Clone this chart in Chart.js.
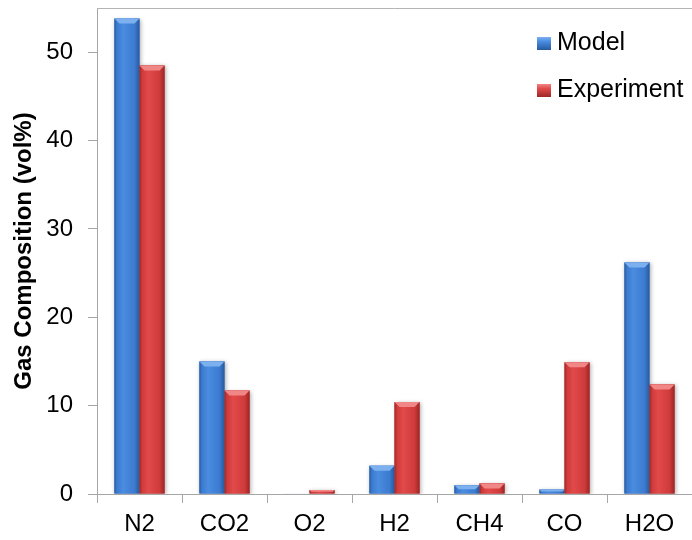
<!DOCTYPE html>
<html>
<head>
<meta charset="utf-8">
<script src="https://cdn.jsdelivr.net/npm/chart.js@4.4.0/dist/chart.umd.min.js"></script>
<style>
  html, body { margin: 0; padding: 0; background: #fff; }
  #wrap { width: 692px; height: 540px; }
</style>
</head>
<body>
<div id="wrap"><canvas id="gasChart" width="692" height="540"></canvas></div>
<script>
const gases = ['N2', 'CO2', 'O2', 'H2', 'CH4', 'CO', 'H2O'];
const modelValues = [53.8, 15.0, 0.05, 3.2, 1.0, 0.5, 26.2];
const experimentValues = [48.5, 11.7, 0.45, 10.4, 1.2, 14.9, 12.4];
const yTicks = [0, 10, 20, 30, 40, 50];

const FONT = '"Liberation Sans", Arial, sans-serif';

const palette = {
  Model: { light: '#4a8ce0', mid: '#3c7bcf', dark: '#275a9e', top: '#7db0ee' },
  Experiment: { light: '#e24a4a', mid: '#cf3a3a', dark: '#9c2626', top: '#f08686' },
};

// soft drop shadow under the bars, then a shaded face and a light top bevel
const bevelBars = {
  id: 'bevelBars',
  beforeDatasetsDraw(chart) {
    const ctx = chart.ctx;
    ctx.save();
    ctx.shadowColor = 'rgba(0,0,0,0.3)';
    ctx.shadowBlur = 4;
    ctx.shadowOffsetX = 1;
    ctx.shadowOffsetY = 1;
  },
  afterDatasetsDraw(chart) {
    const ctx = chart.ctx;
    ctx.restore();
    chart.data.datasets.forEach((ds, i) => {
      const c = palette[ds.label];
      chart.getDatasetMeta(i).data.forEach(bar => {
        const h = bar.base - bar.y;
        if (h < 0.5) return;
        const x0 = bar.x - bar.width / 2;
        const x1 = bar.x + bar.width / 2;
        const g = ctx.createLinearGradient(x0, 0, x1, 0);
        g.addColorStop(0, c.dark);
        g.addColorStop(0.1, c.mid);
        g.addColorStop(0.35, c.light);
        g.addColorStop(0.8, c.mid);
        g.addColorStop(1, c.dark);
        ctx.save();
        ctx.fillStyle = g;
        ctx.fillRect(x0, bar.y, bar.width, h);
        const b = Math.min(5, h / 2);
        if (h >= 2) {
          ctx.fillStyle = c.top;
          ctx.beginPath();
          ctx.moveTo(x0, bar.y);
          ctx.lineTo(x1, bar.y);
          ctx.lineTo(x1 - b, bar.y + b);
          ctx.lineTo(x0 + b, bar.y + b);
          ctx.closePath();
          ctx.fill();
        }
        ctx.restore();
      });
    });
  },
};

// top frame line and the legend inside the plot
const frameAndLegend = {
  id: 'frameAndLegend',
  afterDraw(chart) {
    const ctx = chart.ctx;
    const a = chart.chartArea;
    ctx.save();
    ctx.strokeStyle = '#b4b4b4';
    ctx.lineWidth = 1;
    ctx.beginPath();
    ctx.moveTo(a.left, a.top + 0.5);
    ctx.lineTo(a.right, a.top + 0.5);
    ctx.stroke();

    ctx.font = '25px ' + FONT;
    ctx.textBaseline = 'middle';
    chart.data.datasets.forEach((ds, i) => {
      const c = palette[ds.label];
      const y = 43 + i * 47;
      const x = 537;
      const g = ctx.createLinearGradient(0, y - 6, 0, y + 7);
      g.addColorStop(0, c.top);
      g.addColorStop(0.35, c.light);
      g.addColorStop(1, c.dark);
      ctx.fillStyle = g;
      ctx.fillRect(x, y - 6, 14, 13);
      ctx.fillStyle = '#000';
      ctx.fillText(ds.label, x + 20, y);
    });
    ctx.restore();
  },
};

new Chart(document.getElementById('gasChart'), {
  type: 'bar',
  data: {
    labels: gases,
    datasets: [
      { label: 'Model', data: modelValues, backgroundColor: palette.Model.mid },
      { label: 'Experiment', data: experimentValues, backgroundColor: palette.Experiment.mid },
    ],
  },
  options: {
    responsive: false,
    animation: false,
    layout: { padding: { top: 8, right: 0, left: 0, bottom: 0 } },
    datasets: {
      bar: { barPercentage: 1, categoryPercentage: 0.59, borderWidth: 0 },
    },
    plugins: {
      legend: { display: false },
      tooltip: { enabled: false },
    },
    scales: {
      x: {
        offset: true,
        grid: {
          offset: true,
          drawOnChartArea: false,
          tickLength: 9,
          color: '#a6a6a6',
        },
        border: { color: '#a6a6a6' },
        ticks: {
          color: '#000',
          padding: 7,
          font: { family: FONT, size: 24 },
        },
        afterFit(scale) {
          scale.height = 46;
          scale.paddingLeft = 0;
          scale.paddingRight = 0;
        },
      },
      y: {
        min: 0,
        max: 55,
        afterBuildTicks(scale) { scale.ticks = yTicks.map(v => ({ value: v })); },
        grid: {
          drawOnChartArea: false,
          tickLength: 9,
          color: '#a6a6a6',
        },
        border: { color: '#a6a6a6' },
        ticks: {
          color: '#000',
          padding: 15,
          font: { family: FONT, size: 24 },
        },
        title: {
          display: true,
          text: 'Gas Composition (vol%)',
          color: '#000',
          padding: { top: 10, bottom: 0 },
          font: { family: FONT, size: 24, weight: 'bold' },
        },
        afterFit(scale) {
          scale.width = 97;
          scale.paddingTop = 0;
          scale.paddingBottom = 0;
        },
      },
    },
  },
  plugins: [bevelBars, frameAndLegend],
});
</script>
</body>
</html>
